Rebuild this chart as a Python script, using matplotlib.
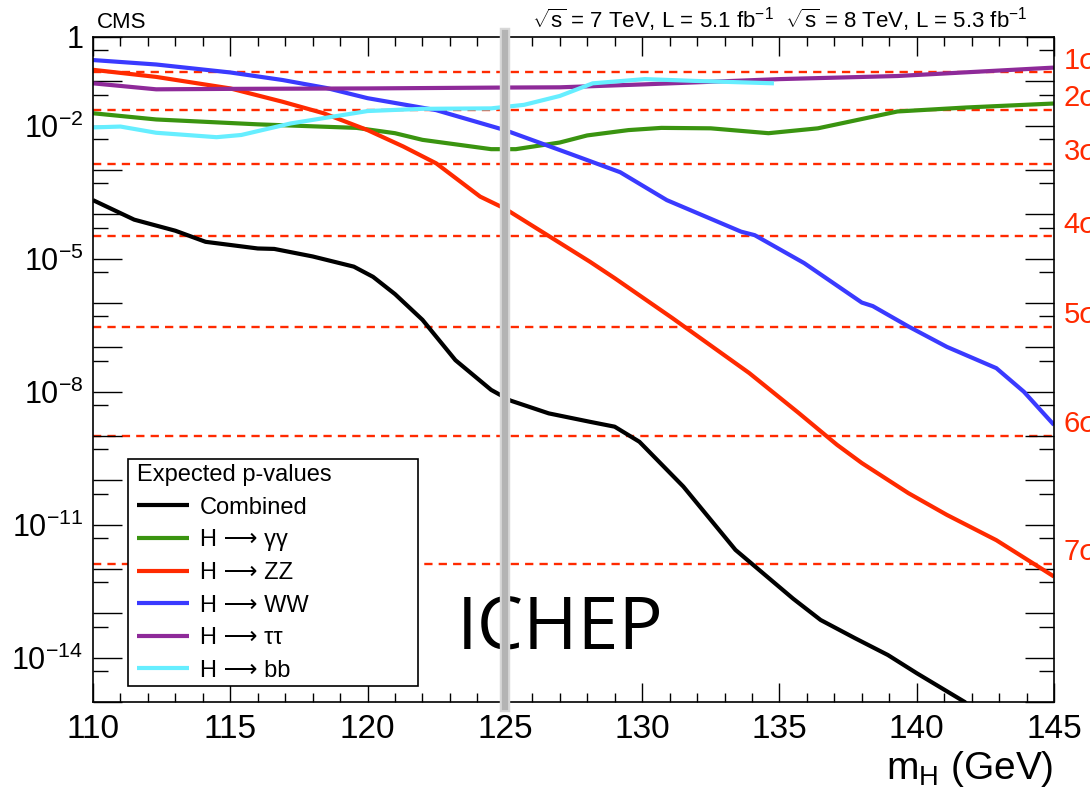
import numpy as np
import matplotlib
matplotlib.use("Agg")
import matplotlib.pyplot as plt
from matplotlib.patches import Rectangle

plt.rcParams['font.family'] = ['Liberation Sans', 'DejaVu Sans']
plt.rcParams['mathtext.fontset'] = 'custom'
plt.rcParams['mathtext.rm'] = 'Liberation Sans'
plt.rcParams['mathtext.it'] = 'Liberation Sans:italic'
plt.rcParams['mathtext.default'] = 'regular'

# ---------------- data (log10 of expected p-value) ----------------
m_comb = [110, 111.5, 113.0, 114.1, 116.0, 116.6, 118.0, 119.5, 120.2, 121.0, 122.0, 123.2,
          124.5, 125.2, 126.6, 128.1, 129.0, 129.9, 131.5, 133.4, 135.5, 136.5, 137.75,
          138.95, 140.0, 141.75, 142.2]
lp_comb = [-3.68, -4.12, -4.37, -4.62, -4.77, -4.78, -4.95, -5.18, -5.41, -5.8, -6.38, -7.29,
           -7.96, -8.2, -8.49, -8.68, -8.79, -9.13, -10.14, -11.57, -12.67, -13.15, -13.56,
           -13.94, -14.35, -15.0, -15.3]

m_gg = [110, 112.3, 116, 119.6, 121, 122, 124.5, 125.4, 127.0, 128, 129.5, 130.7, 132.5,
        134.6, 136.4, 139.3, 141.8, 145]
lp_gg = [-1.72, -1.86, -1.97, -2.05, -2.17, -2.32, -2.53, -2.53, -2.38, -2.22, -2.10, -2.05,
         -2.06, -2.17, -2.06, -1.68, -1.59, -1.50]

m_zz = [110, 112.3, 115, 116.9, 118.4, 120, 121.3, 122.5, 124.1, 125, 126.5, 128.1, 129.0,
        131.1, 133.9, 135.7, 137.1, 138.0, 139.7, 141.1, 142.9, 145]
lp_zz = [-0.74, -0.9, -1.16, -1.46, -1.72, -2.1, -2.47, -2.85, -3.6, -3.87, -4.45, -5.07,
         -5.44, -6.34, -7.58, -8.48, -9.2, -9.61, -10.29, -10.78, -11.35, -12.17]

m_ww = [110, 112.3, 115, 116.9, 118.5, 120, 122.5, 125, 127.4, 129.2, 130.9, 133.6, 134.1,
        135.9, 138.0, 138.4, 139.7, 141.1, 142.9, 143.9, 145]
lp_ww = [-0.52, -0.62, -0.80, -0.97, -1.15, -1.38, -1.65, -2.1, -2.64, -3.05, -3.68, -4.39,
         -4.47, -5.1, -5.99, -6.07, -6.53, -6.99, -7.47, -8.0, -8.75]

m_tt = [110, 112.3, 115, 120, 125, 127, 130, 135, 139.3, 145]
lp_tt = [-1.045, -1.18, -1.17, -1.16, -1.14, -1.135, -1.07, -0.95, -0.88, -0.69]

m_bb = [110, 111.0, 112.3, 114.5, 115.4, 117.2, 120, 122, 124.5, 125.7, 127.0, 128.2, 130.1,
        131.9, 134.8]
lp_bb = [-2.04, -2.02, -2.16, -2.26, -2.21, -1.95, -1.67, -1.62, -1.61, -1.53, -1.33, -1.045,
         -0.95, -0.99, -1.045]

series_labels = ['Combined', 'H \u27f6 \u03b3\u03b3', 'H \u27f6 ZZ', 'H \u27f6 WW',
                 'H \u27f6 \u03c4\u03c4', 'H \u27f6 bb']

sigma_labels = ['1\u03c3', '2\u03c3', '3\u03c3', '4\u03c3', '5\u03c3', '6\u03c3', '7\u03c3']
sigma_p = [1.587e-1, 2.275e-2, 1.350e-3, 3.167e-5, 2.867e-7, 9.866e-10, 1.280e-12]

xticks_major = [110, 115, 120, 125, 130, 135, 140, 145]
ytick_exps = list(range(0, -16, -1))
ylabel_exps = [0, -2, -5, -8, -11, -14]

# ---------------- figure ----------------
fig = plt.figure(figsize=(10.9, 8.02), dpi=100)
L, R, T, B = 93, 1054, 37, 702
W, H = 1090, 802
ax = fig.add_axes([L / W, 1 - B / H, (R - L) / W, (B - T) / H])

colors = ['#000000', '#3a9410', '#ff2a00', '#3a3aff', '#8e2a99', '#66eeff']
data = [(m_comb, lp_comb), (m_gg, lp_gg), (m_zz, lp_zz), (m_ww, lp_ww), (m_tt, lp_tt), (m_bb, lp_bb)]

# sigma lines
red = '#ff2a00'
for lab, p in zip(sigma_labels, sigma_p):
    ax.axhline(p, color=red, lw=1.7, dashes=(3.5, 2.6), zorder=1.5)
    ax.annotate(lab, xy=(1.0, p), xycoords=ax.get_yaxis_transform(),
                xytext=(7, 8.5), textcoords='offset points', ha='left', va='center',
                fontsize=21, color=red, annotation_clip=False)

handles = []
for (mm, lp), c, lab in zip(data, colors, series_labels):
    ln, = ax.plot(mm, 10.0 ** np.array(lp), color=c, lw=3.0, zorder=2,
                  solid_joinstyle='round', solid_capstyle='butt', label=lab)
    handles.append(ln)

ax.set_xlim(110, 145)
ax.set_yscale('log')
ax.set_ylim(1e-15, 1)

# ICHEP text and gray line
ax.text(0.379, 0.081, 'ICHEP', transform=ax.transAxes, fontsize=53, family='Open Sans',
        ha='left', va='baseline', color='black', zorder=2.5)
ax.axvline(125, ymin=-0.008, ymax=1.006, color='#d8d8d8', lw=7.5, zorder=3, clip_on=False)
ax.axvline(125, ymin=-0.008, ymax=1.006, color='#b4b4b4', lw=4.5, zorder=3.1, clip_on=False)

# ticks
ax.set_xticks(xticks_major)
ax.set_xticks(np.arange(110, 146, 1), minor=True)
ax.set_xticklabels([str(v) for v in xticks_major])
ax.set_yticks([10.0 ** e for e in ytick_exps])
ylabels = []
for e in ytick_exps:
    if e in ylabel_exps:
        ylabels.append('1' if e == 0 else r'$10^{%d}$' % e)
    else:
        ylabels.append('')
ax.set_yticklabels(ylabels)
ax.set_yticks([5 * 10.0 ** e for e in range(-1, -16, -1)], minor=True)
ax.yaxis.set_minor_formatter(matplotlib.ticker.NullFormatter())

ax.xaxis.set_tick_params(which='major', direction='in', length=13.7, width=1.0,
                         top=True, bottom=True, labelsize=24, pad=9)
ax.xaxis.set_tick_params(which='minor', direction='in', length=6.5, width=1.0,
                         top=True, bottom=True)
ax.yaxis.set_tick_params(which='major', direction='in', length=21, width=1.0,
                         left=True, right=True, labelsize=22, pad=7)
ax.yaxis.set_tick_params(which='minor', direction='in', length=10.8, width=1.0,
                         left=True, right=True)
for s in ax.spines.values():
    s.set_linewidth(1.2)

# legend frame + legend
lx0, lx1, ly0, ly1 = 128, 418, 686, 459
ax.add_patch(Rectangle(((lx0 - L) / (R - L), (B - ly0) / (B - T)),
                       (lx1 - lx0) / (R - L), (ly0 - ly1) / (B - T),
                       transform=ax.transAxes, facecolor='white', edgecolor='black',
                       lw=1.2, zorder=5))
leg = ax.legend(handles=handles, title='Expected p-values', loc='upper left',
                bbox_to_anchor=((137 - L) / (R - L), (B - 464) / (B - T)),
                frameon=False, fontsize=17, title_fontsize=17, borderpad=0,
                borderaxespad=0, handlelength=2.2, handletextpad=0.45,
                labelspacing=0.45, alignment='left')
leg.set_zorder(6)

# top texts
fig.text(97 / W, 1 - 28 / H, 'CMS', fontsize=16, ha='left', va='baseline')
fig.text(1027 / W, 1 - 28 / H,
         r'$\sqrt{s}$ = 7 TeV, L = 5.1 fb$^{-1}$  $\sqrt{s}$ = 8 TeV, L = 5.3 fb$^{-1}$',
         fontsize=16, ha='right', va='baseline')
fig.text(1053 / W, 1 - 779 / H, r'm$_{H}$ (GeV)', fontsize=28, ha='right', va='baseline')

fig.savefig('out.png', dpi=100)
